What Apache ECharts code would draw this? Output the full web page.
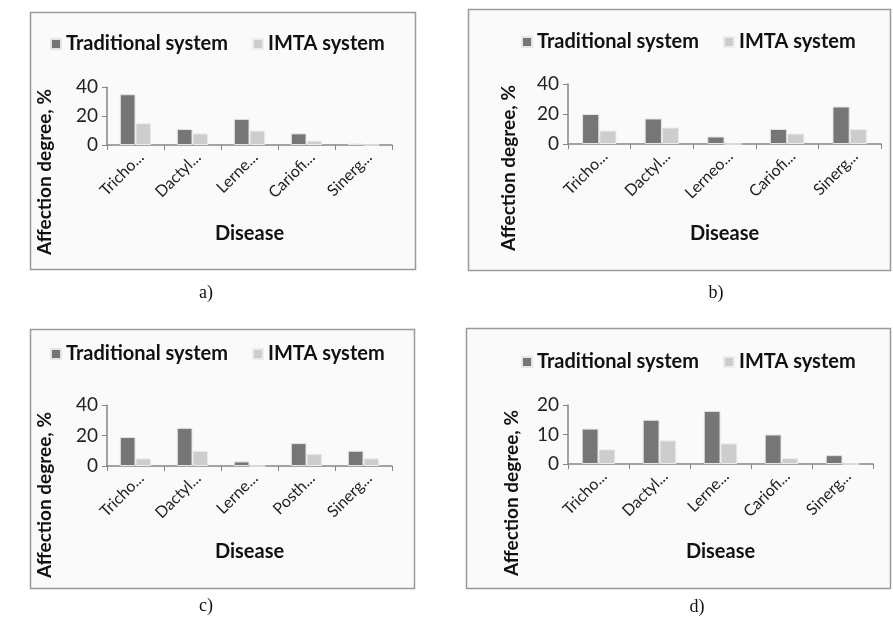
<!DOCTYPE html>
<html>
<head>
<meta charset="utf-8">
<script src="https://cdn.jsdelivr.net/npm/echarts@6/dist/echarts.min.js"></script>
<style>
html,body{margin:0;padding:0;background:#fff;}
#c{width:893px;height:618px;}
</style>
</head>
<body>
<div id="c"></div>
<script>
// ---- data ----
const seriesNames = ['Traditional system', 'IMTA system'];
const categoriesA = ['Tricho...', 'Dactyl...', 'Lerne...', 'Cariofi...', 'Sinerg...'];
const categoriesB = ['Tricho...', 'Dactyl...', 'Lerneo...', 'Cariofi...', 'Sinerg...'];
const categoriesC = ['Tricho...', 'Dactyl...', 'Lerne...', 'Posth...', 'Sinerg...'];
const categoriesD = ['Tricho...', 'Dactyl...', 'Lerne...', 'Cariofi...', 'Sinerg...'];
const traditionalA = [35, 11, 18, 8, 1];
const imtaA = [15, 8, 10, 3, 0];
const traditionalB = [20, 17, 5, 10, 25];
const imtaB = [9, 11, 0, 7, 10];
const traditionalC = [19, 25, 3, 15, 10];
const imtaC = [5, 10, 0, 8, 5];
const traditionalD = [12, 15, 18, 10, 3];
const imtaD = [5, 8, 7, 2, 0];
const yMax = [40, 40, 40, 20];
const yInterval = [20, 20, 20, 10];
const panelLabels = ['a)', 'b)', 'c)', 'd)'];
const xAxisTitle = 'Disease';
const yAxisTitle = 'Affection degree, %';

// ---- layout ----
const FONT = 'Lato, "Open Sans", sans-serif';
const DARK = '#767676';
const LIGHT = '#cdcdcd';
const grids = [
  {left: 107, top: 87, width: 285, height: 58},
  {left: 568, top: 84, width: 313, height: 60},
  {left: 107, top: 405, width: 285, height: 61},
  {left: 568, top: 405, width: 305, height: 59}
];
const boxes = [
  {x: 30.5, y: 12.5, width: 385, height: 257},
  {x: 468.5, y: 9.5, width: 422, height: 261},
  {x: 30.5, y: 329.5, width: 384, height: 259},
  {x: 466.5, y: 328.5, width: 424, height: 260}
];
const legendPos = [
  {left: 50, top: 34},
  {left: 521, top: 32},
  {left: 50, top: 344},
  {left: 521, top: 352}
];
const yTitlePos = [[45, 172], [509, 168], [45, 495], [512, 493]];
const xTitleGap = [79, 80, 76, 78];
const subLabelPos = [[206, 293], [716, 293], [206, 606], [697, 607]];

const cats = [categoriesA, categoriesB, categoriesC, categoriesD];
const trad = [traditionalA, traditionalB, traditionalC, traditionalD];
const imta = [imtaA, imtaB, imtaC, imtaD];

const chart = echarts.init(document.getElementById('c'), null, {renderer: 'canvas'});

const graphic = [];
boxes.forEach(b => graphic.push({
  type: 'rect', z: -10, silent: true,
  shape: b,
  style: {fill: '#fafafa', stroke: '#9a9a9a', lineWidth: 1.5}
}));
yTitlePos.forEach(p => graphic.push({
  type: 'text', x: p[0], y: p[1], rotation: Math.PI / 2,
  style: {text: yAxisTitle, font: 'bold 19px ' + FONT, fill: '#111',
    textAlign: 'center', textVerticalAlign: 'middle'}
}));
subLabelPos.forEach((p, i) => graphic.push({
  type: 'text', x: p[0], y: p[1],
  style: {text: panelLabels[i], font: '18px "Liberation Serif", "DejaVu Serif", serif', fill: '#111',
    textAlign: 'center', textVerticalAlign: 'middle'}
}));

const option = {
  backgroundColor: '#ffffff',
  animation: false,
  textStyle: {fontFamily: FONT},
  grid: grids.map(g => Object.assign({containLabel: false}, g)),
  legend: legendPos.map(p => ({
    left: p.left, top: p.top, padding: 0, icon: 'rect', itemWidth: 10, itemHeight: 10,
    itemGap: 24, data: seriesNames, selectedMode: false,
    textStyle: {fontFamily: FONT, fontWeight: 'bold', fontSize: 20, color: '#111'}
  })),
  xAxis: cats.map((c, i) => ({
    type: 'category', gridIndex: i, data: c,
    name: xAxisTitle, nameLocation: 'middle', nameGap: xTitleGap[i],
    nameTextStyle: {fontFamily: FONT, fontWeight: 'bold', fontSize: 20, color: '#111'},
    axisLine: {lineStyle: {color: '#868686', width: 1.5}},
    axisTick: {show: true, length: 5, lineStyle: {color: '#868686'}},
    axisLabel: {rotate: 45, fontSize: 16, color: '#222', margin: 4, fontFamily: FONT, interval: 0,
      align: 'right', verticalAlign: 'top'}
  })),
  yAxis: yMax.map((m, i) => ({
    type: 'value', gridIndex: i, min: 0, max: m, interval: yInterval[i],
    axisLine: {show: true, lineStyle: {color: '#868686', width: 1.5}},
    axisTick: {show: true, length: 5, lineStyle: {color: '#868686'}},
    splitLine: {show: false},
    axisLabel: {fontSize: 19, color: '#222', margin: 9, fontFamily: FONT}
  })),
  series: []
};
for (let i = 0; i < 4; i++) {
  option.series.push({
    type: 'bar', name: seriesNames[0], xAxisIndex: i, yAxisIndex: i, data: trad[i],
    barGap: '0%', barCategoryGap: '45%',
    itemStyle: {color: DARK, borderColor: '#e4e4e4', borderWidth: 1}
  });
  option.series.push({
    type: 'bar', name: seriesNames[1], xAxisIndex: i, yAxisIndex: i, data: imta[i],
    barGap: '0%', barCategoryGap: '45%',
    itemStyle: {color: LIGHT, borderColor: '#ececec', borderWidth: 1}
  });
}
option.graphic = graphic;
chart.setOption(option);
</script>
</body>
</html>
